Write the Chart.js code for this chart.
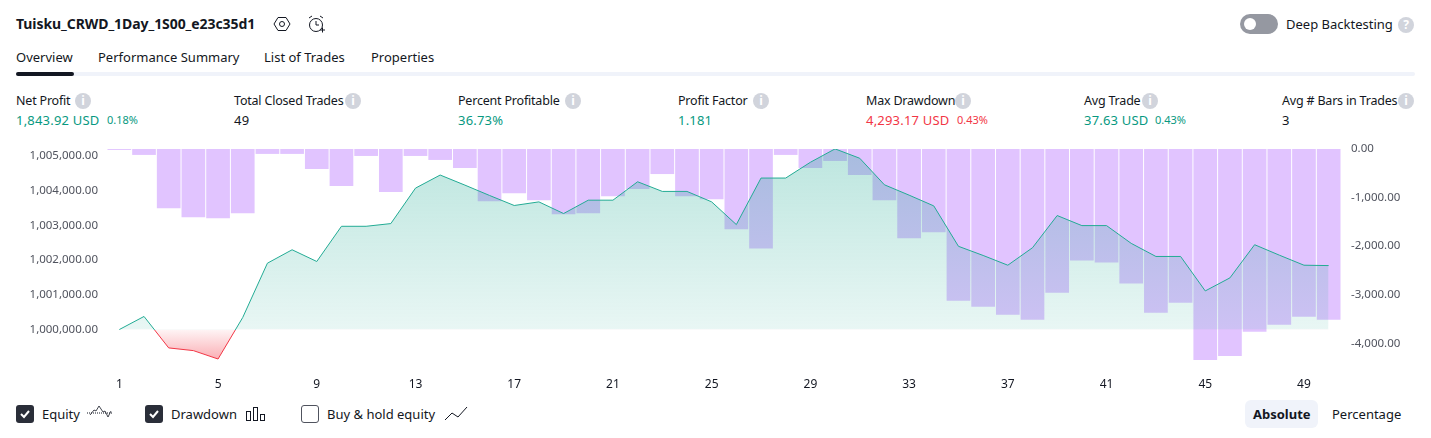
<!DOCTYPE html>
<html>
<head>
<meta charset="utf-8">
<script src="https://cdn.jsdelivr.net/npm/chart.js@4/dist/chart.umd.min.js"></script>
<style>
html, body { margin: 0; padding: 0; background: #fff; }
body { width: 1431px; height: 438px; position: relative; overflow: hidden; font-family: "Noto Sans", sans-serif; font-size: 13px; color: #131722; }
.t { position: absolute; white-space: nowrap; line-height: 18px; }
.b { font-weight: 700; }
.titulo { font-size: 14px; letter-spacing: -0.07px; }
.l { font-size: 12.5px; letter-spacing: -0.2px; }
.v { letter-spacing: 0.2px; }
.g { color: #089981; }
.r { color: #f23645; }
.s { font-size: 11px; letter-spacing: 0; }
svg { position: absolute; overflow: visible; }
.info { position: absolute; width: 16px; height: 16px; border-radius: 8px; background: #d1d4dc; color: #fff; font-size: 12px; font-weight: 700; line-height: 16px; text-align: center; }
.check { position: absolute; top: 405px; width: 18px; height: 18px; border-radius: 3px; box-sizing: border-box; background: #2a2e39; }
.check.off { background: #fff; border: 1px solid #50535e; }
#grafico { position: absolute; left: 0; top: 140px; }
</style>
</head>
<body>
<div class="t b titulo" style="left:16px;top:15px">Tuisku_CRWD_1Day_1S00_e23c35d1</div>
<svg style="left:274px;top:16px" width="16" height="16" fill="none" stroke="#131722"><path d="M4 1.5h8l4 6.5-4 6.5H4L0 8z"/><circle cx="8" cy="8" r="2.5"/></svg>
<svg style="left:308px;top:15px" width="17" height="17" fill="none" stroke="#131722"><circle cx="8" cy="10" r="6.5"/><path d="M8 6v4h3M1 3l3-2M15 3l-3-2M12 15h5M14.5 12.5v5"/></svg>

<div class="t" style="left:16px;top:48px">Overview</div>
<div class="t" style="left:98px;top:48px">Performance Summary</div>
<div class="t" style="left:264px;top:48px">List of Trades</div>
<div class="t" style="left:371px;top:48px">Properties</div>
<div style="position:absolute;left:16px;top:72px;width:1399px;height:4px;border-radius:2px;background:#f0f3fa"></div>
<div style="position:absolute;left:16px;top:72px;width:58px;height:4px;border-radius:2px;background:#131722"></div>

<div class="t l" style="left:16px;top:92px">Net Profit</div><div class="info" style="left:75px;top:93px">i</div>
<div class="t g v" style="left:16px;top:111px">1,843.92 USD</div><div class="t g s" style="left:107px;top:111px">0.18%</div>
<div class="t l" style="left:234px;top:92px">Total Closed Trades</div><div class="info" style="left:345px;top:93px">i</div>
<div class="t v" style="left:234px;top:111px">49</div>
<div class="t l" style="left:458px;top:92px">Percent Profitable</div><div class="info" style="left:565px;top:93px">i</div>
<div class="t g v" style="left:458px;top:111px">36.73%</div>
<div class="t l" style="left:678px;top:92px">Profit Factor</div><div class="info" style="left:753px;top:93px">i</div>
<div class="t g v" style="left:678px;top:111px">1.181</div>
<div class="t l" style="left:866px;top:92px">Max Drawdown</div><div class="info" style="left:955px;top:93px">i</div>
<div class="t r v" style="left:866px;top:111px">4,293.17 USD</div><div class="t r s" style="left:957px;top:111px">0.43%</div>
<div class="t l" style="left:1084px;top:92px">Avg Trade</div><div class="info" style="left:1142px;top:93px">i</div>
<div class="t g v" style="left:1084px;top:111px">37.63 USD</div><div class="t g s" style="left:1155px;top:111px">0.43%</div>
<div class="t l" style="left:1282px;top:92px">Avg # Bars in Trades</div><div class="info" style="left:1398px;top:93px">i</div>
<div class="t v" style="left:1282px;top:111px">3</div>

<div style="position:absolute;left:1240px;top:14px;width:38px;height:20px;border-radius:10px;background:#9598a1"></div>
<div style="position:absolute;left:1244px;top:18px;width:12px;height:12px;border-radius:6px;background:#fff"></div>
<div class="t" style="left:1286px;top:15px">Deep Backtesting</div><div class="info" style="left:1398px;top:17px">?</div>

<canvas id="grafico" width="1431" height="255"></canvas>

<div class="check" style="left:16px"><svg style="left:4px;top:5px" width="10" height="8" fill="none" stroke="#fff" stroke-width="2"><path d="M1 4l3 3 5-6"/></svg></div>
<div class="t" style="left:42px;top:405px">Equity</div>
<svg style="left:87px;top:404px" width="25" height="17" fill="none" stroke="#131722"><path d="M0 9h25" stroke-dasharray="1 1"/><path d="M3 11l4-5 2 1 3-5 4 6 2-1 3 6 3-6" stroke-width="0.8"/></svg>
<div class="check" style="left:145px"><svg style="left:4px;top:5px" width="10" height="8" fill="none" stroke="#fff" stroke-width="2"><path d="M1 4l3 3 5-6"/></svg></div>
<div class="t" style="left:171px;top:405px">Drawdown</div>
<svg style="left:246px;top:406px" width="20" height="16" fill="none" stroke="#131722"><rect x="0.5" y="5.5" width="4" height="9"/><rect x="7.5" y="1.5" width="4" height="13"/><rect x="14.5" y="8.5" width="4" height="6"/></svg>
<div class="check off" style="left:301px"></div>
<div class="t" style="left:327px;top:405px">Buy &amp; hold equity</div>
<svg style="left:445px;top:406px" width="23" height="15" fill="none" stroke="#131722"><path d="M0 14l7-7 6 4 9-10"/></svg>
<div style="position:absolute;left:1245px;top:400px;width:73px;height:28px;border-radius:6px;background:#f0f3fa"></div>
<div class="t b" style="left:1253px;top:405px">Absolute</div>
<div class="t" style="left:1332px;top:405px">Percentage</div>

<script>
// valores
var categorias = [1,2,3,4,5,6,7,8,9,10,11,12,13,14,15,16,17,18,19,20,21,22,23,24,25,26,27,28,29,30,31,32,33,34,35,36,37,38,39,40,41,42,43,44,45,46,47,48,49,50];
var equity = [1000000,1000377,999470,999392,999150,1000348,1001913,1002300,1001962,1002977,1002977,1003055,1004078,1004455,1004165,1003866,1003577,1003681,1003345,1003730,1003730,1004261,1003983,1003983,1003681,1003026,1004368,1004368,1004823,1005209,1004939,1004174,1003875,1003565,1002400,1002136,1001855,1002359,1003287,1002997,1002997,1002484,1002107,1002107,1001113,1001490,1002446,1002145,1001855,1001843.92];
var drawdown = [-21,-124,-1219,-1405,-1426,-1322,-103,-103,-413,-764,-145,-888,-145,-227,-393,-1074,-909,-1054,-1343,-1322,-971,-826,-517,-971,-1033,-1653,-2045,-124,-393,-248,-537,-1054,-1839,-1715,-3120,-3244,-3409,-3512,-2955,-2293,-2335,-2769,-3368,-3161,-4339,-4256,-3760,-3616,-3450,-3512];
var ticksEquity = [1000000,1001000,1002000,1003000,1004000,1005000];
var ticksDrawdown = [0,-1000,-2000,-3000,-4000];
var base = 1000000;

function formato(v) {
    return v.toLocaleString('en-US', {minimumFractionDigits: 2, maximumFractionDigits: 2});
}

// degradados, necesitan la escala ya calculada
var pluginDegradados = {
    id: 'degradados',
    afterLayout: function (chart) {
        var ctx = chart.ctx;
        var area = chart.chartArea;
        var y0 = chart.scales.y.getPixelForValue(base);
        var yMin = chart.scales.y.getPixelForValue(999150);
        var arriba = ctx.createLinearGradient(0, area.top, 0, y0);
        arriba.addColorStop(0, 'rgba(34,171,148,0.30)');
        arriba.addColorStop(1, 'rgba(34,171,148,0.10)');
        var abajo = ctx.createLinearGradient(0, y0, 0, yMin);
        abajo.addColorStop(0, 'rgba(242,54,69,0.05)');
        abajo.addColorStop(1, 'rgba(242,54,69,0.40)');
        chart.data.datasets[0].fill = {target: {value: base}, above: arriba, below: abajo};
        var corte = (y0 - area.top) / (area.bottom - area.top);
        var linea = ctx.createLinearGradient(0, area.top, 0, area.bottom);
        linea.addColorStop(0, '#22ab94');
        linea.addColorStop(corte, '#22ab94');
        linea.addColorStop(corte, '#f23645');
        linea.addColorStop(1, '#f23645');
        chart.data.datasets[2].borderColor = linea;
    }
};

var grafico = new Chart(document.getElementById('grafico'), {
    type: 'bar',
    plugins: [pluginDegradados],
    data: {
        labels: categorias,
        datasets: [
            {type: 'line', data: equity, yAxisID: 'y', borderColor: 'transparent', borderWidth: 0, pointRadius: 0, tension: 0, order: 2, fill: {target: {value: base}}},
            {type: 'bar', data: drawdown, yAxisID: 'y2', backgroundColor: '#e1c4ff', categoryPercentage: 1, barPercentage: 0.96, order: 3},
            {type: 'line', data: equity, yAxisID: 'y', borderWidth: 1, pointRadius: 0, tension: 0, fill: false, order: 1}
        ]
    },
    options: {
        responsive: false,
        animation: false,
        layout: {padding: {top: 3, left: 0, right: 0, bottom: 0}},
        plugins: {legend: {display: false}, tooltip: {enabled: false}},
        scales: {
            x: {
                grid: {display: false},
                border: {display: false},
                afterFit: function (s) { s.height = 33; },
                ticks: {
                    padding: 7, maxRotation: 0, autoSkip: false,
                    color: '#131722', font: {family: 'Noto Sans', size: 12},
                    callback: function (v, i) { return i % 4 == 0 ? categorias[i] : ''; }
                }
            },
            y: {
                position: 'left',
                min: 999063.8,
                max: 1005208.7,
                grid: {display: false},
                border: {display: false},
                afterFit: function (s) { s.width = 107; },
                afterBuildTicks: function (s) { s.ticks = ticksEquity.map(function (v) { return {value: v}; }); },
                ticks: {
                    padding: 1, color: '#50535e', font: {family: 'Noto Sans', size: 11.5},
                    callback: function (v) { return formato(v); }
                }
            },
            y2: {
                position: 'right',
                min: -4380,
                max: 0,
                grid: {display: false},
                border: {display: false},
                afterFit: function (s) { s.width = 90; },
                afterBuildTicks: function (s) { s.ticks = ticksDrawdown.map(function (v) { return {value: v}; }); },
                ticks: {
                    padding: 2, color: '#50535e', font: {family: 'Noto Sans', size: 11.5},
                    callback: function (v) { return formato(v); }
                }
            }
        }
    }
});
</script>
</body>
</html>
